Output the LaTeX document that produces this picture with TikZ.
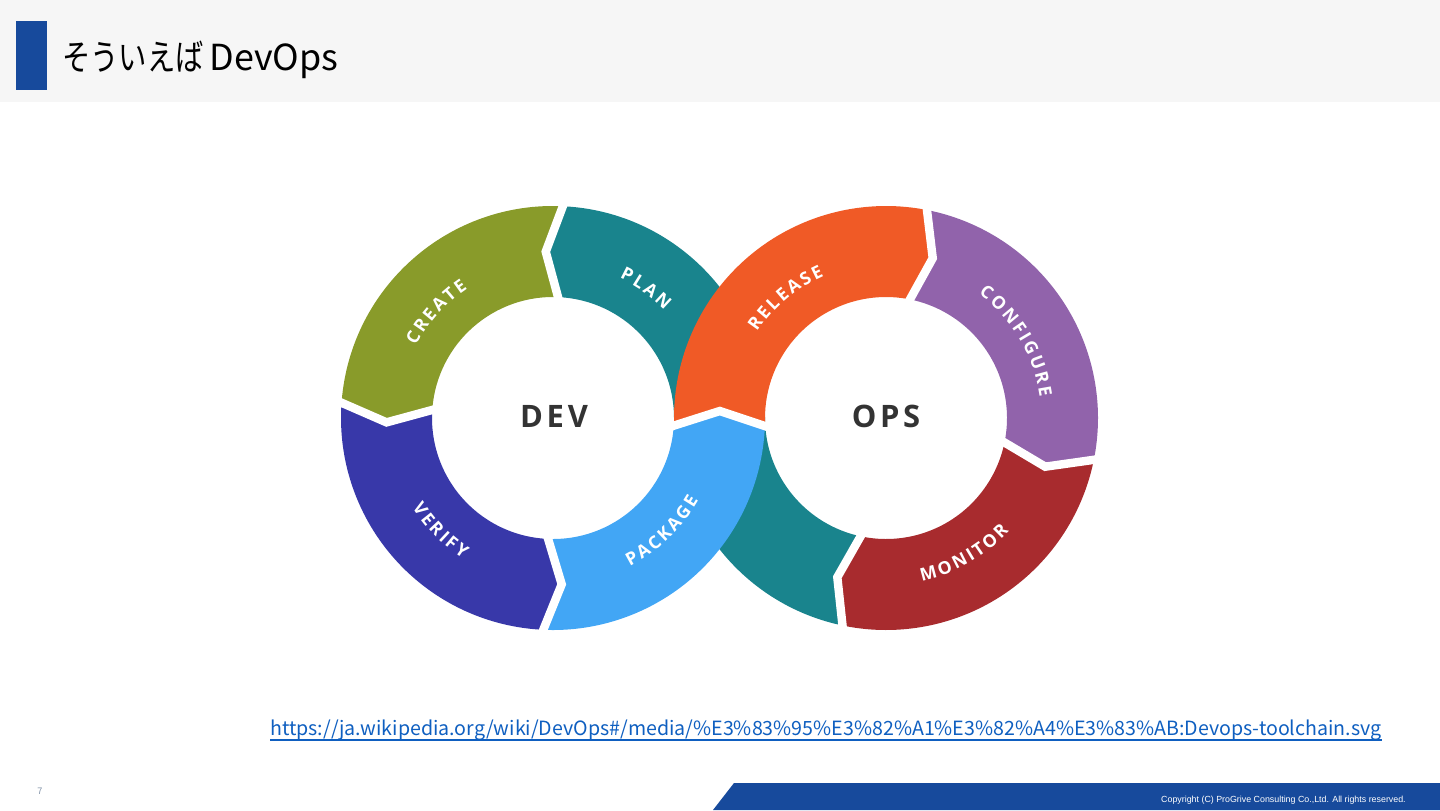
\documentclass[tikz,border=0pt]{standalone}
\usepackage{graphicx}
\usepackage{fontspec}
\setmainfont{Noto Sans CJK JP}
\newfontfamily\titlefont{Noto Sans CJK JP}
\newfontfamily\ringfont[LetterSpace=12]{Open Sans}
\newfontfamily\segfamily{Open Sans}
\newfontfamily\smallfont{Liberation Sans}
\usetikzlibrary{decorations.text, calc}
\definecolor{planTeal}{HTML}{19848D}
\definecolor{createOlive}{HTML}{899B2A}
\definecolor{verifyIndigo}{HTML}{3838A9}
\definecolor{packageBlue}{HTML}{42A6F5}
\definecolor{releaseOrange}{HTML}{F05A26}
\definecolor{configPurple}{HTML}{9163AB}
\definecolor{monitorRed}{HTML}{A82B2E}
\definecolor{barGray}{HTML}{F6F6F6}
\definecolor{slideBlue}{HTML}{174A9C}
\definecolor{linkBlue}{HTML}{0F5FC0}
\definecolor{hubGray}{HTML}{333333}
\definecolor{pageGray}{HTML}{8595AA}
% letter-spaced segment lettering (each glyph box gets a leading kern)
\newcommand{\segfont}{\segfamily\bfseries\fontsize{12.6pt}{13pt}\selectfont\kern1.8pt}
\def\rOut{212}
\def\rIn{121}
\def\rMid{166.5}

\begin{document}
\begin{tikzpicture}[x=0.025cm, y=0.025cm,
  gapline/.style={white, line width=6pt, line join=miter},
  hub/.style={font=\ringfont\bfseries\fontsize{22pt}{22pt}\selectfont, text=hubGray, inner sep=0pt},
  seglabel/.style={decorate, decoration={text along path, text align=center, text color=white}}]
  \useasboundingbox (0,0) rectangle (1440,-810);

  % title bar
  \fill[barGray] (0,0) rectangle (1440,-102);
  \fill[slideBlue] (16,-21) rectangle (47,-90);
  \node[anchor=base west, inner sep=0pt, font=\titlefont\fontsize{25.5pt}{30pt}\selectfont] (title) at (62,-70)
    {\scalebox{0.79}[1]{そういえば}\hspace{4pt}DevOps};

  % teal band (PLAN), drawn first: it runs under PACKAGE and RELEASE
  \begin{scope}[shift={(886,-418)}]
    \fill[planTeal] (-101.5:\rOut) arc[start angle=-101.5, end angle=-180, radius=\rOut]
      -- (-180:\rIn) arc[start angle=-180, end angle=-101.5, radius=\rIn] -- (-107:\rMid) -- cycle;
  \end{scope}

  % DEV ring
  \begin{scope}[shift={(553,-418)}]
    \fill[planTeal] (0:\rIn) arc[start angle=0, end angle=87, radius=\rIn]
      -- (92.5:\rMid) -- (87:\rOut) arc[start angle=87, end angle=0, radius=\rOut] -- cycle;
    \fill[createOlive] (87:\rOut) arc[start angle=87, end angle=175.5, radius=\rOut]
      -- (181.5:\rMid) -- (175.5:\rIn) arc[start angle=175.5, end angle=87, radius=\rIn] -- (92.5:\rMid) -- cycle;
    \fill[verifyIndigo] (175.5:\rOut) arc[start angle=175.5, end angle=267, radius=\rOut]
      -- (273:\rMid) -- (267:\rIn) arc[start angle=267, end angle=175.5, radius=\rIn] -- (181.5:\rMid) -- cycle;
    \fill[packageBlue] (267:\rOut) arc[start angle=267, end angle=357.84, radius=\rOut]
      -- (2.4:167) -- (356.21:\rIn) arc[start angle=356.21, end angle=267, radius=\rIn] -- (273:\rMid) -- cycle;
    \draw[gapline] (87:216) -- (92.5:\rMid) -- (87:117);
    \draw[gapline] (175.5:216) -- (181.5:\rMid) -- (175.5:117);
    \draw[gapline] (267:216) -- (273:\rMid) -- (267:117);
  \end{scope}

  % OPS ring
  \begin{scope}[shift={(886,-418)}]
    \fill[releaseOrange] (182.16:\rOut) arc[start angle=182.16, end angle=79.2, radius=\rOut]
      -- (73.7:\rMid) -- (79.2:\rIn) arc[start angle=79.2, end angle=183.79, radius=\rIn] -- (177.6:166.1) -- cycle;
    \fill[configPurple] (79.2:\rOut) arc[start angle=79.2, end angle=-11, radius=\rOut]
      -- (-17:\rMid) -- (-11:\rIn) arc[start angle=-11, end angle=79.2, radius=\rIn] -- (73.7:\rMid) -- cycle;
    \fill[monitorRed] (-11:\rOut) arc[start angle=-11, end angle=-101.5, radius=\rOut]
      -- (-107:\rMid) -- (-101.5:\rIn) arc[start angle=-101.5, end angle=-11, radius=\rIn] -- (-17:\rMid) -- cycle;
    \draw[gapline] (79.2:216) -- (73.7:\rMid) -- (79.2:117);
    \draw[gapline] (-11:216) -- (-17:\rMid) -- (-11:117);
    \draw[gapline] (-101.5:216) -- (-107:\rMid) -- (-101.5:117);
  \end{scope}
  \draw[gapline] (668.9,-427.2) -- (719.85,-411) -- (768.6,-427.3);

  % segment labels
  \begin{scope}[shift={(553,-418)}]
    \path[seglabel, decoration={text={|\segfont|PLAN}}] (94.8:155) arc[start angle=94.8, end angle=14.8, radius=155];
    \path[seglabel, decoration={text={|\segfont|CREATE}}] (178.3:155) arc[start angle=178.3, end angle=98.3, radius=155];
    \path[seglabel, decoration={text={|\segfont|VERIFY}}] (184.5:167) arc[start angle=184.5, end angle=264.5, radius=167];
    \path[seglabel, decoration={text={|\segfont|PACKAGE}}] (273.5:167) arc[start angle=273.5, end angle=353.5, radius=167];
  \end{scope}
  \begin{scope}[shift={(886,-418)}]
    \path[seglabel, decoration={text={|\segfont|RELEASE}}] (170.4:155) arc[start angle=170.4, end angle=90.4, radius=155];
    \path[seglabel, decoration={text={|\segfont|CONFIGURE}}] (81:155) arc[start angle=81, end angle=-19, radius=155];
    \path[seglabel, decoration={text={|\segfont|MONITOR}}] (-100.5:167) arc[start angle=-100.5, end angle=-20.5, radius=167];
  \end{scope}

  \node[hub] (dev) at (554,-416) {DEV};
  \node[hub] (ops) at (886,-416) {OPS};

  % source link
  \node[anchor=base west, inner sep=0pt, text=linkBlue, font=\fontsize{13.95pt}{16pt}\selectfont] (url) at (270,-735)
    {https://ja.wikipedia.org/wiki/DevOps\#/media/\%E3\%83\%95\%E3\%82\%A1\%E3\%82\%A4\%E3\%83\%AB:Devops-toolchain.svg};
  \draw[linkBlue, line width=1pt] ($(url.base west)+(0,-5)$) -- ($(url.base east)+(0,-5)$);

  % footer
  \fill[slideBlue] (713,-810) -- (734,-783) -- (1440,-783) -- (1440,-810) -- cycle;
  \node[anchor=east, inner sep=0pt, text=white, font=\smallfont\fontsize{6.3pt}{7pt}\selectfont] (copy) at (1406,-800)
    {Copyright (C) ProGrive Consulting Co.,Ltd. All rights reserved.};
  \node[text=pageGray, inner sep=0pt, font=\fontsize{6.5pt}{8pt}\selectfont] (pagenum) at (40,-791) {7};
\end{tikzpicture}
\end{document}
